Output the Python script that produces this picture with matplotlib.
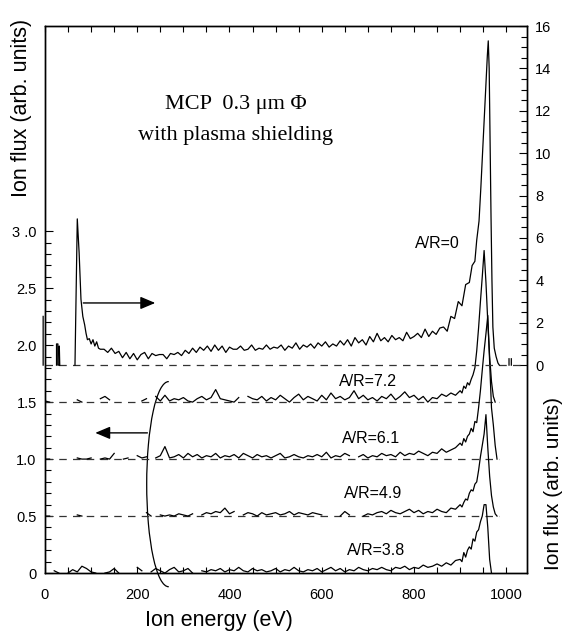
import numpy as np
import matplotlib
matplotlib.use("Agg")
from matplotlib import pyplot as plt
from matplotlib.patches import Arc
from matplotlib.ticker import FixedLocator, FixedFormatter

plt.rcParams['font.family'] = ['Liberation Sans', 'DejaVu Sans']
nan = np.nan

# ---- A/R=0 trace (right axis), energy in eV ----
e_top_head = [-4, -4, nan, 25, 25, 28, 28, 31, 31, 32, nan, 65, 70, 74, 78, 82, 86, 89, 92,
              96, 100, 104, 108, 112, 116, 120]
v_top_head = [0, 2.3, nan, 0, 1.0, 1.0, 0, 0, 0.9, 0, nan, 0, 6.9, 5.3, 3.1, 2.3, 1.9, 1.5, 1.2,
              1.25, 1.0, 1.2, 0.9, 1.1, 0.8, 0.75]
e_top_flat = list(range(128, 857, 8))
v_top_flat = [0.75, 0.60, 0.80, 0.55, 0.65, 0.35, 0.60, 0.30, 0.55, 0.25,
              0.50, 0.60, 0.30, 0.55, 0.45, 0.50, 0.50, 0.30, 0.55, 0.50,
              0.60, 0.45, 0.70, 0.55, 0.80, 0.60, 0.85, 0.70, 0.90, 0.65,
              0.95, 0.70, 0.90, 0.60, 0.85, 0.75, 0.75, 0.90, 0.70, 0.75,
              0.95, 0.70, 0.80, 0.75, 0.95, 0.75, 0.85, 0.80, 0.95, 0.70,
              0.90, 0.80, 1.05, 0.75, 0.95, 0.85, 1.00, 0.80, 1.05, 0.90,
              1.10, 0.85, 1.00, 0.90, 1.15, 0.95, 1.20, 0.90, 1.30, 1.05,
              1.20, 0.95, 1.35, 1.10, 1.50, 1.15, 1.30, 1.10, 1.40, 1.20,
              1.30, 1.15, 1.55, 1.25, 1.35, 1.50, 1.30, 1.70, 1.35, 1.60,
              1.45, 1.75]
e_top_tail = [864, 872, 880, 888, 896, 904, 912, 920, 926, 932,
              936, 941, 945, 950, 955, 959, 961, 963, 965, 967,
              969, 971, 974, 978, 982, 985, nan, 1006, 1006, nan, 1011, 1011]
v_top_tail = [1.8, 1.6, 2.3, 2.2, 3.0, 2.8, 3.8, 3.9, 4.7, 4.9,
              5.9, 6.8, 8.4, 10.6, 12.7, 14.6, 15.3, 14.0, 10.5, 7.0,
              4.0, 1.8, 0.8, 0.4, 0.1, 0.0, nan, 0, 0.3, nan, 0, 0.3]

# ---- lower traces (left axis), values relative to their offsets ----
energy = list(range(0, 900, 10)) + list(range(900, 1000, 4))

ar72 = [0.01, 0.0, nan, nan, nan, nan, nan, 0.02, 0.0, nan,
        nan, nan, 0.03, 0.05, 0.02, nan, nan, nan, nan, nan,
        nan, 0.01, 0.03, nan, 0.05, 0.01, 0.06, 0.01, 0.03, 0.02,
        0.04, 0.01, 0.0, 0.03, 0.05, 0.02, 0.04, 0.11, 0.03, 0.02,
        0.01, 0.0, 0.04, nan, 0.05, 0.03, 0.02, 0.05, 0.01, 0.04,
        0.02, 0.06, 0.03, 0.0, 0.04, 0.07, 0.02, 0.05, 0.03, 0.01,
        0.06, 0.02, 0.08, 0.03, 0.05, 0.02, 0.04, 0.10, 0.03, 0.06,
        0.02, 0.04, 0.01, 0.05, 0.03, 0.07, 0.02, 0.05, 0.09, 0.04,
        0.06, 0.02, 0.05, 0.0, 0.04, 0.03, 0.07, 0.05, 0.08, 0.06,
        0.10, 0.08, 0.14, 0.12, 0.17, 0.15, 0.20, 0.24, 0.30, 0.45,
        0.65, 0.88, 1.10, 1.33, 1.05, 0.70, 0.40, 0.18, 0.05, 0.0,
        nan, nan, nan, nan, nan]

ar61 = [0.0, 0.0, nan, nan, nan, nan, nan, 0.01, 0.0, 0.0,
        0.01, nan, 0.0, 0.01, 0.0, 0.05, nan, 0.0, 0.01, nan,
        0.03, 0.01, 0.02, nan, 0.01, 0.03, 0.11, 0.01, 0.02, 0.04,
        0.01, 0.05, 0.02, 0.04, 0.01, 0.03, 0.02, 0.05, 0.01, 0.03,
        0.02, 0.04, 0.01, 0.05, 0.03, 0.01, 0.04, 0.02, 0.03, 0.01,
        0.03, 0.05, 0.01, 0.02, 0.04, 0.02, 0.01, 0.03, 0.02, 0.04,
        0.02, 0.06, 0.01, 0.03, 0.02, 0.05, 0.03, nan, 0.02, 0.04,
        0.01, 0.03, 0.02, 0.05, 0.03, 0.04, 0.02, 0.06, 0.03, 0.05,
        0.04, 0.07, 0.05, 0.03, 0.06, 0.05, 0.09, 0.06, 0.08, 0.10,
        0.14, 0.12, 0.18, 0.15, 0.20, 0.22, 0.27, 0.24, 0.33, 0.32,
        0.45, 0.60, 0.78, 0.95, 1.10, 1.26, 0.85, 0.45, 0.30, 0.12,
        0.0, nan, nan, nan, nan]

ar49 = [0.0, 0.0, nan, nan, nan, nan, nan, 0.01, 0.0, nan,
        nan, nan, nan, nan, nan, nan, nan, nan, nan, nan,
        nan, nan, 0.03, 0.0, nan, 0.01, 0.0, 0.01, 0.0, 0.02,
        0.01, 0.0, 0.02, nan, 0.01, 0.03, 0.02, 0.04, 0.03, 0.07,
        0.02, 0.04, nan, 0.01, 0.03, 0.02, 0.0, 0.03, 0.01, 0.02,
        0.03, 0.01, 0.02, 0.04, 0.01, 0.03, 0.02, 0.01, 0.03, 0.02,
        0.01, nan, nan, nan, 0.0, 0.04, 0.01, nan, nan, 0.0,
        0.02, 0.01, 0.03, 0.04, 0.02, 0.05, 0.03, 0.02, 0.04, 0.06,
        0.03, 0.05, 0.02, 0.04, 0.03, 0.06, 0.04, 0.03, 0.07, 0.06,
        0.10, 0.08, 0.12, 0.15, 0.14, 0.20, 0.23, 0.22, 0.28, 0.30,
        0.40, 0.52, 0.62, 0.72, 0.89, 0.60, 0.35, 0.18, 0.08, 0.02,
        0.0, nan, nan, nan, nan]

ar38 = [nan, nan, 0.02, 0.0, nan, 0.0, 0.03, 0.01, 0.06, 0.04,
        0.01, 0.0, nan, 0.0, 0.01, 0.04, 0.0, nan, nan, nan,
        0.05, 0.02, nan, 0.01, 0.04, 0.02, 0.0, 0.03, 0.05, 0.01,
        0.02, 0.04, 0.0, nan, 0.02, 0.01, 0.03, 0.02, 0.04, 0.01,
        0.03, 0.02, 0.05, 0.02, 0.01, 0.04, 0.02, 0.03, 0.01, 0.02,
        0.04, 0.01, 0.03, 0.02, 0.05, 0.02, 0.01, 0.03, 0.02, 0.04,
        0.01, 0.03, 0.05, 0.02, 0.04, 0.01, 0.03, 0.02, 0.05, 0.03,
        0.02, 0.04, 0.03, 0.05, 0.03, 0.02, 0.05, 0.04, 0.06, 0.03,
        0.05, 0.04, 0.07, 0.05, 0.06, 0.08, 0.06, 0.09, 0.07, 0.11,
        0.12, 0.10, 0.18, 0.14, 0.20, 0.23, 0.21, 0.30, 0.28, 0.36,
        0.38, 0.45, 0.50, 0.60, 0.60, 0.40, 0.12, 0.0, nan, nan,
        nan, nan, nan, nan, nan]

offsets = [1.5, 1.0, 0.5, 0.0]
lower = [ar72, ar61, ar49, ar38]
labels = ["A/R=7.2", "A/R=6.1", "A/R=4.9", "A/R=3.8"]
label_x = [700, 707, 711, 717]
label_y = [1.68, 1.18, 0.70, 0.20]

fig = plt.figure(figsize=(5.66, 6.41), dpi=100)
ax = fig.add_axes([0.0795, 0.106, 0.8516, 0.8534])
ax2 = ax.twinx()

dash = (0, (6.0, 5.0))
lw = 0.9

# upper trace on right axis
e_top = e_top_head + e_top_flat + e_top_tail
v_top = v_top_head + v_top_flat + v_top_tail
ax2.plot([0, 1045], [0, 0], color="#333333", lw=lw, linestyle=dash)
ax2.plot(e_top, v_top, color="k", lw=lw, clip_on=False)

# lower traces on left axis
energy = np.array(energy)
for off, tr in zip(offsets, lower):
    tr = np.array(tr)
    if off > 0:
        ax.plot([0, 985], [off, off], color="#333333", lw=lw, linestyle=dash)
    ax.plot(energy, tr + off, color="k", lw=lw)

for lab, lx, ly in zip(labels, label_x, label_y):
    ax.text(lx, ly, lab, fontsize=11.5, ha="center", va="center")
ax.text(850, 2.89, "A/R=0", fontsize=11.5, ha="center", va="center")

ax.text(413, 4.11, "MCP  0.3 \u03bcm \u03a6", fontsize=16, ha="center", va="center",
        family="Liberation Serif")
ax.text(413, 3.84, "with plasma shielding", fontsize=16, ha="center", va="center",
        family="Liberation Serif")

# arrows
ax.annotate("", xy=(239, 2.37), xytext=(83, 2.37),
            arrowprops=dict(arrowstyle="-|>,head_length=0.9,head_width=0.38",
                            mutation_scale=10, color="k", lw=1, shrinkA=0, shrinkB=0))
ax.annotate("", xy=(109, 1.23), xytext=(222, 1.23),
            arrowprops=dict(arrowstyle="-|>,head_length=0.9,head_width=0.38",
                            mutation_scale=10, color="k", lw=1, shrinkA=0, shrinkB=0))
ax.add_patch(Arc((268, 0.78), 95, 1.8, theta1=68, theta2=292, color="k", lw=0.9,
                 clip_on=False))

# axes limits and ticks
ax.set_xlim(0, 1045)
ax.set_ylim(0, 4.8)
ax2.set_ylim(-9.81, 16)

ax.xaxis.set_major_locator(FixedLocator([0, 200, 400, 600, 800, 1000]))
ax.xaxis.set_minor_locator(FixedLocator(list(range(50, 1001, 50))))
ax.yaxis.set_major_locator(FixedLocator([0, 0.5, 1.0, 1.5, 2.0, 2.5, 3.0]))
ax.yaxis.set_major_formatter(FixedFormatter(["0", "0.5", "1.0", "1.5", "2.0", "2.5", "3 .0"]))
ax.yaxis.set_minor_locator(FixedLocator([i / 10 for i in range(1, 30) if i % 5 != 0]))
ax2.yaxis.set_major_locator(FixedLocator(list(range(0, 17, 2))))
ax2.yaxis.set_minor_locator(FixedLocator([i / 2 for i in range(1, 32) if i % 4 != 0]))

ax.tick_params(axis="x", which="both", direction="in", top=True, length=4, width=0.8,
               labelsize=10.5, pad=11)
ax.tick_params(axis="y", which="major", direction="in", right=False, length=6, width=0.8,
               labelsize=10.5, pad=6)
ax.tick_params(axis="y", which="minor", direction="in", right=False, length=4.5, width=0.8)
ax2.tick_params(axis="y", which="major", direction="in", length=6, width=0.8,
                labelsize=10.5, pad=6)
ax2.tick_params(axis="y", which="minor", direction="in", length=4.5, width=0.8)

for a in (ax, ax2):
    for s in a.spines.values():
        s.set_linewidth(1.0)

ax.text(-0.048, 0.85, "Ion flux (arb. units)", transform=ax.transAxes, rotation=90,
        fontsize=15.5, ha="center", va="center")
ax.text(1.056, 0.163, "Ion flux (arb. units)", transform=ax.transAxes, rotation=90,
        fontsize=15, ha="center", va="center")
ax.text(0.36, -0.086, "Ion energy (eV)", transform=ax.transAxes,
        fontsize=15.5, ha="center", va="center")

plt.savefig("out.png", dpi=100)
